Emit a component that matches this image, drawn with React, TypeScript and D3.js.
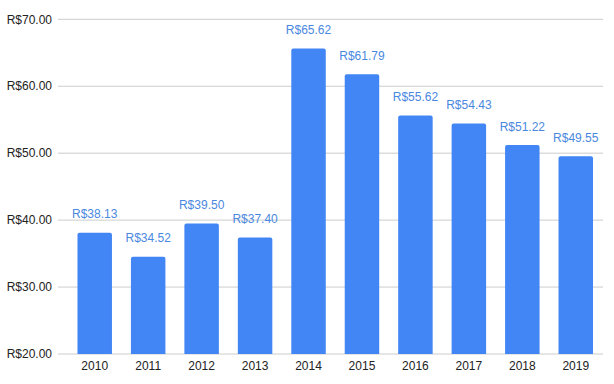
import React from "react";
import * as d3 from "d3";

const years = ["2010", "2011", "2012", "2013", "2014", "2015", "2016", "2017", "2018", "2019"];
const prices = [38.13, 34.52, 39.5, 37.4, 65.62, 61.79, 55.62, 54.43, 51.22, 49.55];
const yTicks = [20, 30, 40, 50, 60, 70];

const W = 614;
const H = 384;

export default function App() {
  const x = d3.scaleBand<string>().domain(years).range([68, 602.5]).paddingInner(0.355).paddingOuter(0.1775);
  const y = d3.scaleLinear().domain([20, 70]).range([354, 19.3]);
  const fmt = (v: number) => "R$" + v.toFixed(2);
  const r = 2;
  return (
    <svg width={W} height={H} style={{ position: "absolute", left: 0, top: 0, fontFamily: "Arial, 'Liberation Sans', sans-serif" }}>
      <rect width={W} height={H} fill="#fff" />
      {yTicks.map((t) => (
        <g key={t}>
          <line x1={58} x2={603} y1={y(t)} y2={y(t)} stroke="#cccccc" strokeWidth={1} />
          <text x={52} y={y(t)} dy="0.35em" textAnchor="end" fontSize={12} fill="#222">
            {fmt(t)}
          </text>
        </g>
      ))}
      {years.map((yr, i) => {
        const x0 = x(yr)!;
        const w = x.bandwidth();
        const top = y(prices[i]);
        const bot = y(20);
        const path = `M${x0},${bot} L${x0},${top + r} Q${x0},${top} ${x0 + r},${top} L${x0 + w - r},${top} Q${x0 + w},${top} ${x0 + w},${top + r} L${x0 + w},${bot} Z`;
        return (
          <g key={yr}>
            <path d={path} fill="#4285f4" />
            <text x={x0 + w / 2} y={top - 14.5} textAnchor="middle" fontSize={12} fill="#4a88e0">
              {fmt(prices[i])}
            </text>
            <text x={x0 + w / 2} y={370} textAnchor="middle" fontSize={12} fill="#222">
              {yr}
            </text>
          </g>
        );
      })}
    </svg>
  );
}
